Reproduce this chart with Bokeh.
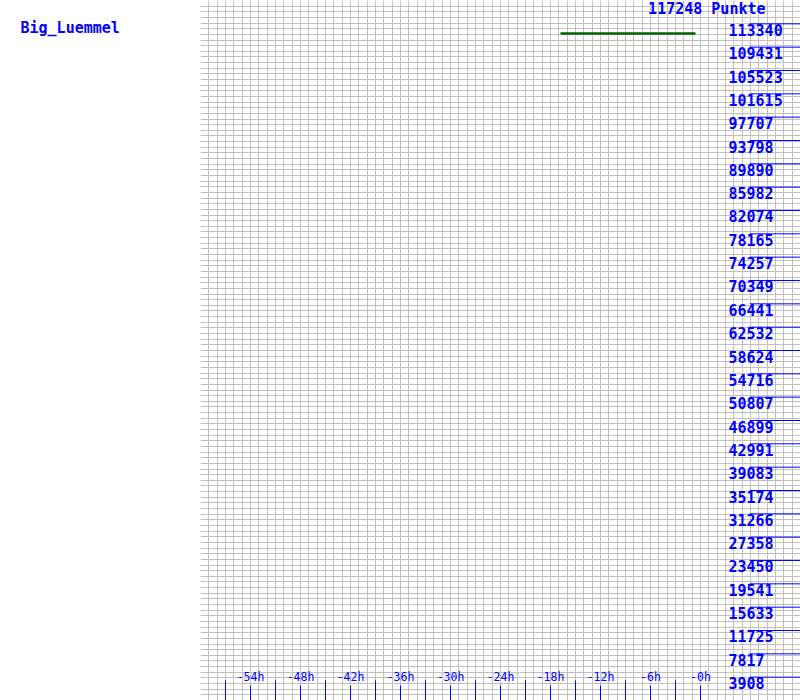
from bokeh.plotting import figure
from bokeh.layouts import row
from bokeh.models import Range1d, FixedTicker
from bokeh.core.properties import value
from bokeh.embed import file_html
from bokeh.resources import INLINE

# ---- data ----
player = "Big_Luemmel"
max_points = 117248
total_label = "117248 Punkte"
series_hours = [-16.8, -0.6]
series_points = [111720, 111720]
y_tick_values = [3908, 7817, 11725, 15633, 19541, 23450, 27358, 31266, 35174,
                 39083, 42991, 46899, 50807, 54716, 58624, 62532, 66441, 70349,
                 74257, 78165, 82074, 85982, 89890, 93798, 97707, 101615,
                 105523, 109431, 113340]
y_tick_labels = [str(v) for v in y_tick_values]
x_major_hours = [-54, -48, -42, -36, -30, -24, -18, -12, -6, 0]
x_major_labels = ["-54h", "-48h", "-42h", "-36h", "-30h", "-24h", "-18h", "-12h", "-6h", "-0h"]
x_minor_hours = [-57, -51, -45, -39, -33, -27, -21, -15, -9, -3]

BLUE = "#0000ff"
GRID = "#c0c0c0"
MONO = value("DejaVu Sans Mono")
H = 700
px = max_points / H  # points per pixel

# ---- left panel ----
left = figure(width=200, height=H, x_range=Range1d(0, 200), y_range=Range1d(0, H),
              output_backend="svg", toolbar_location=None, min_border=0)
left.axis.visible = False
left.grid.visible = False
left.outline_line_color = None
left.text(x=[20], y=[H], text=[player], text_font=MONO, text_font_size="15px",
          text_font_style="bold", text_color=BLUE, text_baseline="middle",
          y_offset=27)

# ---- main panel ----
p = figure(width=600, height=H, x_range=Range1d(-60, 12), y_range=Range1d(0, max_points),
           output_backend="svg", toolbar_location=None, min_border=0)
p.axis.visible = False
p.outline_line_color = None
p.xgrid.ticker = FixedTicker(ticks=list(range(-60, 13)))
p.ygrid.ticker = FixedTicker(ticks=[max_points * i / 124 for i in range(125)])
p.grid.grid_line_color = GRID
p.grid.grid_line_width = 1

# series
p.line(series_hours, series_points, line_color="#006400", line_width=2.5)

# y labels + lines
p.segment(x0=[5.9] * len(y_tick_values), x1=[12] * len(y_tick_values),
          y0=y_tick_values, y1=y_tick_values, line_color=BLUE, line_width=1)
p.text(x=[3.36] * len(y_tick_values), y=y_tick_values, text=y_tick_labels,
       text_font=MONO, text_font_size="15px", text_font_style="bold",
       text_color=BLUE, text_align="left", text_baseline="middle", y_offset=6)
p.text(x=[7.8], y=[max_points], text=[total_label], text_font=MONO,
       text_font_size="15px", text_font_style="bold", text_color=BLUE,
       text_align="right", text_baseline="middle", y_offset=8.7)

# x ticks + labels
p.segment(x0=x_major_hours, x1=x_major_hours, y0=[0] * len(x_major_hours),
          y1=[15 * px] * len(x_major_hours), line_color=BLUE, line_width=1)
p.segment(x0=x_minor_hours, x1=x_minor_hours, y0=[0] * len(x_minor_hours),
          y1=[20 * px] * len(x_minor_hours), line_color=BLUE, line_width=1)
p.text(x=x_major_hours, y=[0] * len(x_major_hours), text=x_major_labels,
       text_font=MONO, text_font_size="11.5px", text_color=BLUE,
       text_align="center", text_baseline="middle", y_offset=-24)

layout = row(left, p, spacing=0)
open("out.html", "w").write(file_html(layout, INLINE))
